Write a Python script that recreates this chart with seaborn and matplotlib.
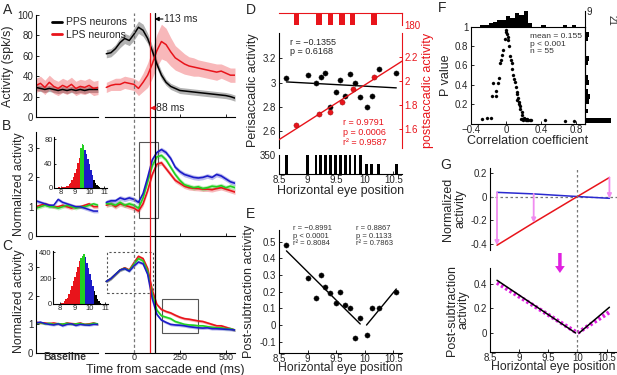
import numpy as np
import matplotlib
matplotlib.use("Agg")
import matplotlib.pyplot as plt
import seaborn as sns
from matplotlib.patches import Rectangle

# ---------------- data: panels A-C (time courses) ----------------
base_idx = list(range(15))
t_right = [-150, -125, -100, -75, -50, -25, 0, 25, 50, 75, 100, 125, 150, 175, 200,
           225, 250, 275, 300, 325, 350, 375, 400, 425, 450, 475, 500, 525, 550]

pps_base = [29, 28, 27, 28, 27, 26, 27, 26, 27, 26, 27, 26, 27, 27, 27]
lps_base = [31, 33, 29, 34, 30, 28, 31, 29, 32, 28, 30, 29, 31, 28, 29]
pps_right = [62, 63, 67, 73, 77, 75, 81, 88, 85, 77, 65, 52, 41, 34, 30,
             28, 26, 25.5, 25, 24.5, 24, 23.5, 23, 22.5, 22, 21.5, 21, 20, 18.5]
lps_right = [29, 31, 32, 32, 34, 33, 32, 28, 34, 41, 52, 65, 74, 71, 64,
             58, 55, 52, 50, 49, 48, 47, 46, 45, 44, 45, 43, 41, 41]
pps_sem = [4, 4, 4, 5, 5, 5, 6, 6, 6, 5, 5, 4, 4, 3, 3, 3, 3, 3, 3, 3, 3, 3, 3, 3, 3, 3, 3, 3, 3]
lps_sem = [5, 5, 6, 6, 6, 6, 6, 7, 9, 12, 14, 16, 17, 16, 14, 12, 11, 10, 9, 9, 8, 8, 8, 8, 8, 7, 7, 7, 7]
pps_base_sem = 3
lps_base_sem = 7

b_red_base = [1.0, 1.05, 1.1, 1.05, 1.0, 1.0, 1.05, 1.0, 0.95, 1.0, 1.0, 1.05, 1.1, 1.0, 1.0]
b_green_base = [0.95, 1.0, 1.05, 1.0, 1.0, 0.95, 1.0, 1.05, 1.0, 0.95, 1.0, 1.0, 1.05, 1.1, 1.05]
b_blue_base = [1.2, 1.15, 1.1, 1.05, 1.05, 1.25, 1.15, 1.1, 1.05, 1.0, 1.0, 0.95, 0.9, 0.85, 0.85]
b_red = [1.05, 1.1, 1.0, 1.1, 1.05, 1.0, 0.95, 0.85, 1.1, 1.55, 2.1, 2.45, 2.5, 2.3, 2.1,
         1.9, 1.8, 1.7, 1.65, 1.63, 1.62, 1.6, 1.6, 1.58, 1.62, 1.65, 1.6, 1.55, 1.5]
b_green = [1.1, 1.1, 1.05, 1.15, 1.05, 1.1, 1.05, 0.95, 1.3, 1.85, 2.4, 2.7, 2.75, 2.6, 2.35,
           2.1, 1.9, 1.75, 1.7, 1.65, 1.68, 1.62, 1.65, 1.7, 1.68, 1.72, 1.65, 1.7, 1.65]
b_blue = [1.15, 1.2, 1.2, 1.3, 1.25, 1.3, 1.25, 1.15, 1.45, 2.0, 2.6, 2.85, 2.95, 2.85, 2.65,
          2.35, 2.2, 2.1, 2.05, 2.0, 1.98, 2.0, 2.05, 2.0, 2.1, 2.05, 1.95, 1.85, 1.8]

c_red_base = [1.08, 1.05, 1.05, 1.03, 1.05, 1.02, 1.0, 1.05, 1.03, 1.02, 1.05, 1.0, 1.02, 1.05, 1.0]
c_green_base = [1.05, 1.06, 1.02, 1.04, 1.0, 1.03, 1.01, 1.04, 1.0, 1.02, 1.03, 1.0, 1.0, 1.04, 1.02]
c_blue_base = [1.05, 1.08, 1.03, 1.0, 0.98, 1.02, 0.95, 1.0, 1.02, 0.96, 1.0, 0.98, 0.97, 1.0, 1.0]
c_red = [2.5, 2.6, 2.75, 2.9, 2.98, 2.9, 3.15, 3.38, 3.3, 2.95, 2.2, 1.7, 1.52, 1.45, 1.4,
         1.32, 1.25, 1.2, 1.18, 1.15, 1.12, 1.1, 1.05, 1.0, 0.95, 0.95, 0.9, 0.85, 0.8]
c_green = [2.5, 2.6, 2.75, 2.9, 2.96, 2.88, 3.1, 3.3, 3.22, 2.85, 2.05, 1.5, 1.3, 1.25, 1.2,
           1.1, 1.05, 1.0, 0.98, 0.97, 0.95, 0.95, 0.92, 0.9, 0.88, 0.88, 0.85, 0.85, 0.8]
c_blue = [2.5, 2.6, 2.75, 2.9, 2.95, 2.86, 3.04, 3.18, 3.12, 2.75, 1.9, 1.35, 1.15, 1.07, 1.0,
          0.98, 0.97, 0.95, 0.92, 0.9, 0.88, 0.87, 0.88, 0.85, 0.85, 0.84, 0.83, 0.82, 0.8]

lat_lps = 88
lat_pps = 113

# inset histograms of eye position
hist_pos = [7.9, 8.0, 8.1, 8.2, 8.3, 8.4, 8.5, 8.6, 8.7, 8.8, 8.9, 9.0, 9.1, 9.2, 9.3,
            9.4, 9.5, 9.6, 9.7, 9.8, 9.9, 10.0, 10.1, 10.2, 10.3, 10.4, 10.5, 10.6, 10.7]
b_counts = [1, 0, 1, 2, 2, 3, 4, 6, 9, 13, 18, 25, 32, 42, 50,
            66, 73, 70, 62, 56, 48, 40, 30, 22, 14, 9, 5, 3, 1]
c_counts = [0, 2, 5, 10, 20, 35, 50, 80, 110, 140, 175, 210, 245, 285, 330,
            355, 375, 390, 360, 320, 280, 230, 185, 140, 100, 70, 40, 20, 8]
group_edges = [9.35, 9.65, 10.25]

# ---------------- data: panels D-E ----------------
eye_pos = [8.63, 9.00, 9.15, 9.23, 9.31, 9.40, 9.49, 9.57, 9.66, 9.74, 9.83, 9.92,
           10.03, 10.12, 10.24, 10.55]
eye_counts = [350, 350, 350, 350, 350, 350, 350, 350, 350, 350, 350, 350, 190, 190, 190, 190]
peri_act = [3.04, 3.06, 3.00, 3.05, 3.08, 2.80, 2.92, 3.02, 2.89, 3.07, 3.00, 2.88,
            2.80, 2.89, 3.11, 3.08]
post_eye = [8.80, 9.20, 9.40, 9.60, 9.79, 10.16]
post_counts = [180, 180, 180, 180, 180, 180]
post_act = [1.63, 1.72, 1.74, 1.82, 1.93, 2.03]
post_sub = [0.48, 0.28, 0.16, 0.30, 0.23, 0.19, 0.13, 0.20, 0.12, 0.10, -0.08, 0.04,
            -0.06, 0.10, 0.10, 0.20]
eye_split = 10.0

# ---------------- data: panel F ----------------
r_vals = [-0.28, -0.22, -0.17, -0.155, -0.145, -0.12, -0.11, -0.09, -0.08, -0.065, -0.055, -0.045,
          -0.035, -0.015, -0.005, 0.0, 0.005, 0.02, 0.025, 0.035, 0.045,
          0.051, 0.062, 0.073, 0.081, 0.095,
          0.105, 0.111, 0.119, 0.126, 0.13, 0.138, 0.142, 0.149,
          0.157, 0.164, 0.17, 0.176, 0.18, 0.187, 0.195,
          0.202, 0.205, 0.21, 0.214, 0.22, 0.225, 0.233, 0.24, 0.245,
          0.27, 0.289, 0.44, 0.67, 0.78]
p_vals = [0.045, 0.048, 0.048, 0.28, 0.42, 0.28, 0.33, 0.42, 0.47, 0.62, 0.66, 0.71,
          0.76, 0.88, 0.95, 0.97, 0.93, 0.86, 0.90, 0.80, 0.70,
          0.66, 0.62, 0.56, 0.50, 0.46,
          0.43, 0.38, 0.32, 0.245, 0.30, 0.26, 0.22, 0.20,
          0.15, 0.18, 0.045, 0.115, 0.04, 0.08, 0.035,
          0.048, 0.045, 0.04, 0.042, 0.038, 0.035, 0.04, 0.03, 0.035,
          0.028, 0.033, 0.029, 0.019, 0.019]

# ---------------- data: panel G (model) ----------------
g_x = [8.62, 9.25, 10.0, 10.55]
g_blue = [0.035, 0.022, 0.0, -0.015]
g_red = [-0.41, -0.22, 0.0, 0.16]
g_vl_x = [8.62, 9.97]
g_vl_y = [0.43, 0.0]
g_vr_x = [10.03, 10.55]
g_vr_y = [0.0, 0.21]
g_abs_x = [8.62, 10.0, 10.55]
g_abs_y = [0.41, 0.0, 0.17]

# ---------------- style ----------------
sns.set_theme(style="ticks")
plt.rcParams["font.family"] = ["Liberation Sans", "DejaVu Sans"]
plt.rcParams.update({
    "axes.edgecolor": "black", "axes.linewidth": 0.8,
    "xtick.direction": "in", "ytick.direction": "in",
    "xtick.major.size": 2.5, "ytick.major.size": 2.5,
    "xtick.major.width": 0.7, "ytick.major.width": 0.7,
    "xtick.labelsize": 7, "ytick.labelsize": 7,
    "xtick.major.pad": 1, "ytick.major.pad": 2,
    "axes.labelsize": 9,
})

RED, GREEN, BLUE = "#e8141b", "#22d022", "#1c1cc8"
W, H = 617, 375
fig = plt.figure(figsize=(6.17, 3.75), dpi=100)


def box(l, t, r, b):
    ax = fig.add_axes([l / W, 1 - b / H, (r - l) / W, (b - t) / H])
    ax.set_facecolor("none")
    return ax


def trace(ax, x, y, err, color, lw=1.0, label=None):
    y = np.asarray(y, float)
    err = np.asarray(err, float)
    ax.fill_between(x, y - err, y + err, color=color, alpha=0.3, lw=0)
    sns.lineplot(x=x, y=y, color=color, lw=lw, ax=ax, label=label)


def only(ax, keep):
    for s in ["left", "right", "top", "bottom"]:
        ax.spines[s].set_visible(s in keep)


# ---------------- A-C ----------------
rows = [(15, 117, (0, 100), [0, 20, 40, 60, 80, 100]),
        (132, 236, (0, 3.55), [0, 1, 2, 3]),
        (250, 353, (0, 3.6), [0, 1, 2, 3])]
ax_base, ax_right = [], []
for top, bot, ylim, yt in rows:
    a = box(36, top, 98, bot)
    a.set_xlim(0, 14)
    a.set_ylim(*ylim)
    a.set_yticks(yt)
    a.set_xticks([])
    only(a, ["left", "bottom"])
    r = box(105, top, 235, bot)
    r.set_xlim(-157, 550)
    r.set_ylim(*ylim)
    r.set_yticks([])
    r.set_xticks([0, 250, 500])
    r.set_xticklabels([])
    only(r, ["bottom"])
    ax_base.append(a)
    ax_right.append(r)

# A
trace(ax_base[0], base_idx, pps_base, pps_base_sem, "black", 1.1, "PPS neurons")
trace(ax_base[0], base_idx, lps_base, lps_base_sem, RED, 1.1, "LPS neurons")
trace(ax_right[0], t_right, pps_right, pps_sem, "black", 1.1)
trace(ax_right[0], t_right, lps_right, lps_sem, RED, 1.1)
ax_base[0].set_ylabel("Activity (spk/s)", labelpad=2)
leg = ax_base[0].legend(loc="upper left", bbox_to_anchor=(0.1, 1.07), frameon=False,
                        fontsize=7.5, handlelength=1.0, handletextpad=0.4, labelspacing=0.25)
for line in leg.get_lines():
    line.set_linewidth(2)

# B
for ys, col in [(b_red_base, RED), (b_green_base, GREEN), (b_blue_base, BLUE)]:
    trace(ax_base[1], base_idx, ys, 0.06, col, 1.1)
for ys, col in [(b_red, RED), (b_green, GREEN), (b_blue, BLUE)]:
    trace(ax_right[1], t_right, ys, 0.08, col, 1.2)
ax_right[1].add_patch(Rectangle((30, 0.6), 100, 2.6, fill=False, ec="#555", lw=0.8))

# C
for ys, col in [(c_red_base, RED), (c_green_base, GREEN), (c_blue_base, BLUE)]:
    trace(ax_base[2], base_idx, ys, 0.04, col, 1.1)
for ys, col in [(c_red, RED), (c_green, GREEN), (c_blue, BLUE)]:
    trace(ax_right[2], t_right, ys, 0.05, col, 1.2)
ax_right[2].add_patch(Rectangle((-147, 2.09), 250, 1.43, fill=False, ec="#555", lw=0.8, ls=(0, (2, 2))))
ax_right[2].add_patch(Rectangle((152, 0.7), 196, 1.18, fill=False, ec="#555", lw=0.8))
ax_right[2].set_xticklabels(["0", "250", "500"])
ax_right[2].tick_params(axis="x", pad=0, labelsize=6.5)
ax_base[1].set_ylabel("Normalized activity", labelpad=2, fontsize=8.8)
ax_base[2].set_ylabel("Normalized activity", labelpad=2, fontsize=8.8)

# insets
bar_cols = np.array(["red", "#22d022", BLUE, "black"])[np.digitize(hist_pos, group_edges)]
bar_cols = [RED if c == "red" else c for c in bar_cols]
for (l, t, r, b), counts, ylim, yt in [((54, 137, 107, 188), b_counts, 84, [0, 40, 80]),
                                       ((53, 251, 108, 304), c_counts, 410, [0, 200, 400])]:
    ins = box(l, t, r, b)
    ins.bar(hist_pos, counts, width=0.1, color=bar_cols, lw=0)
    ins.set_xlim(7.55, 11.2)
    ins.set_ylim(0, ylim)
    ins.set_xticks([8, 9, 10, 11])
    ins.set_yticks(yt)
    ins.tick_params(labelsize=5.5, length=1.5, pad=1)
    only(ins, ["left", "bottom"])

# overlay with latency lines
ov = box(105, 13, 235, 353)
ov.set_xlim(-157, 550)
ov.set_ylim(353, 13)
ov.axis("off")
ov.axvline(0, color="#777", lw=0.9, ls=(0, (2.5, 2)))
ov.axvline(lat_lps, color=RED, lw=0.9)
ov.axvline(lat_pps, color="black", lw=0.9)
ov.annotate("", xy=(lat_pps, 19), xytext=(lat_pps + 45, 19),
            arrowprops=dict(arrowstyle="-|>", color="black", lw=0.8, mutation_scale=6, shrinkA=0, shrinkB=0))
ov.text(lat_pps + 52, 19, "113 ms", fontsize=7.5, va="center")
ov.annotate("", xy=(lat_lps, 108), xytext=(lat_pps + 8, 108),
            arrowprops=dict(arrowstyle="-|>", color=RED, lw=0.9, mutation_scale=6, shrinkA=0, shrinkB=0))
ov.text(lat_pps + 10, 108, "88 ms", fontsize=7.5, va="center")

fig.text(65 / W, 1 - 357 / H, "Baseline", ha="center", va="center", fontsize=7.5,
         color="#333", weight="bold")
fig.text(165 / W, 1 - 369.5 / H, "Time from saccade end (ms)", ha="center", va="center", fontsize=9)

# ---------------- D ----------------
ax_dt = box(279, 13, 402, 25)
ax_dt.bar(post_eye, post_counts, width=0.09, color=RED, lw=0)
ax_dt.set_xlim(8.5, 10.65)
ax_dt.set_ylim(180, 0)
ax_dt.set_xticks([])
ax_dt.yaxis.tick_right()
ax_dt.set_yticks([180])
ax_dt.tick_params(axis="y", colors=RED, length=0)
only(ax_dt, ["top", "right"])
ax_dt.spines["top"].set_color(RED)
ax_dt.spines["right"].set_color(RED)

ax_d = box(279, 33, 402, 148)
ax_d.set_xlim(8.5, 10.65)
ax_d.set_ylim(2.46, 3.41)
ax_d2 = ax_d.twinx()
ax_d2.set_ylim(1.44, 2.40)
sns.regplot(x=eye_pos, y=peri_act, scatter=False, ci=None, color="black",
            line_kws=dict(lw=1), ax=ax_d)
sns.scatterplot(x=eye_pos, y=peri_act, color="black", s=14, edgecolor="#222", ax=ax_d, zorder=3)
sns.regplot(x=post_eye, y=post_act, scatter=False, ci=None, truncate=False, color=RED,
            line_kws=dict(lw=1), ax=ax_d2)
sns.scatterplot(x=post_eye, y=post_act, color=RED, s=14, edgecolor="#901010", ax=ax_d2, zorder=3)
ax_d.set_xlim(8.5, 10.65)
ax_d.set_xticks([])
ax_d.set_yticks([2.6, 2.8, 3.0, 3.2])
ax_d.set_yticklabels(["2.6", "2.8", "3", "3.2"])
ax_d2.set_yticks([1.6, 1.8, 2.0, 2.2])
ax_d2.set_yticklabels(["1.6", "1.8", "2", "2.2"])
only(ax_d, ["left"])
only(ax_d2, ["right"])
ax_d2.spines["right"].set_color(RED)
ax_d2.tick_params(axis="y", colors=RED)
ax_d.set_ylabel("Perisaccadic activity", labelpad=3)
ax_d2.set_ylabel("postsaccadic activity", color=RED, labelpad=3)
ax_d.text(0.09, 0.96, "r = \u22120.1355\np = 0.6168", transform=ax_d.transAxes, fontsize=6.5,
          va="top", linespacing=1.1)
ax_d.text(0.52, 0.26, "r = 0.9791\np = 0.0006\nr\u00b2 = 0.9587", transform=ax_d.transAxes,
          fontsize=6.5, va="top", color=RED, linespacing=1.1)

ax_db = box(279, 155, 402, 174)
ax_db.bar(eye_pos, eye_counts, width=0.045, color="black", lw=0)
ax_db.set_xlim(8.5, 10.65)
ax_db.set_ylim(0, 350)
ax_db.set_yticks([350])
ax_db.set_xticks([8.5, 9, 9.5, 10, 10.5])
ax_db.set_xticklabels(["8.5", "9", "9.5", "10", "10.5"])
ax_db.tick_params(axis="y", length=0)
only(ax_db, ["left", "bottom"])
ax_db.set_xlabel("Horizontal eye position", labelpad=0)

# ---------------- E ----------------
ax_e = box(279, 230, 402, 353)
ex = np.array(eye_pos)
ey = np.array(post_sub)
left = ex < eye_split
sns.regplot(x=ex[left], y=ey[left], scatter=False, ci=None, color="black", line_kws=dict(lw=1), ax=ax_e)
sns.regplot(x=ex[~left], y=ey[~left], scatter=False, ci=None, color="black", line_kws=dict(lw=1), ax=ax_e)
sns.scatterplot(x=ex, y=ey, color="black", s=14, edgecolor="#222", ax=ax_e, zorder=3)
ax_e.set_xlim(8.5, 10.65)
ax_e.set_ylim(-0.168, 0.57)
ax_e.set_yticks([-0.1, 0, 0.1, 0.2, 0.3, 0.4, 0.5])
ax_e.set_yticklabels(["-0.1", "0", "0.1", "0.2", "0.3", "0.4", "0.5"])
ax_e.set_xticks([8.5, 9, 9.5, 10, 10.5])
ax_e.set_xticklabels(["8.5", "9", "9.5", "10", "10.5"])
ax_e.tick_params(axis="x", pad=0.5)
only(ax_e, ["left", "bottom"])
ax_e.set_xlabel("Horizontal eye position", labelpad=-1, fontsize=8.8)
ax_e.set_ylabel("Post-subtraction activity", labelpad=3)
ax_e.text(0.11, 1.04, "r = \u22120.8991\np < 0.0001\nr\u00b2 = 0.8084", transform=ax_e.transAxes,
          fontsize=5.5, va="top", color="#333", linespacing=1.1)
ax_e.text(0.63, 1.04, "r = 0.8867\np = 0.1133\nr\u00b2 = 0.7863", transform=ax_e.transAxes,
          fontsize=5.5, va="top", color="#333", linespacing=1.1)

# ---------------- F ----------------
ax_f = box(471, 27, 585, 124)
sns.scatterplot(x=r_vals, y=p_vals, color="black", s=5, edgecolor="black", ax=ax_f)
ax_f.set_xlim(-0.4, 0.9)
ax_f.set_ylim(-0.01, 1.0)
ax_f.set_xticks([-0.4, 0, 0.4, 0.8])
ax_f.set_xticklabels(["\u22120.4", "0", "0.4", "0.8"])
ax_f.set_yticks([0.2, 0.4, 0.6, 0.8, 1.0])
ax_f.set_yticklabels(["0.2", "0.4", "0.6", "0.8", "1"])
ax_f.set_xlabel("Correlation coefficient", labelpad=0)
ax_f.set_ylabel("P value", labelpad=2)
ax_f.text(0.52, 0.94, "mean = 0.155\np < 0.001\nn = 55", transform=ax_f.transAxes, fontsize=6,
          va="top", color="#333", linespacing=1.15)

ax_ft = box(471, 11, 585, 27)
sns.histplot(x=r_vals, bins=np.arange(-0.3, 0.851, 0.05), color="black", alpha=1,
             edgecolor="black", lw=0, ax=ax_ft)
ax_ft.set_xlim(-0.4, 0.9)
ax_ft.set_ylim(0, 9)
ax_ft.set_xticks([])
ax_ft.yaxis.tick_right()
ax_ft.set_yticks([9])
ax_ft.set_ylabel("")
ax_ft.tick_params(axis="y", length=0, labelsize=7, pad=1)
only(ax_ft, ["right"])

ax_fr = box(585, 27, 612, 124)
sns.histplot(y=p_vals, bins=np.arange(0, 1.001, 0.05), color="black", alpha=1,
             edgecolor="black", lw=0, ax=ax_fr)
ax_fr.set_ylim(-0.01, 1.0)
ax_fr.set_xlim(0, 21)
ax_fr.set_yticks([])
ax_fr.xaxis.tick_top()
ax_fr.set_xticks([21])
ax_fr.set_xlabel("")
ax_fr.tick_params(axis="x", length=0, labelsize=7, labelrotation=-90, pad=1)
only(ax_fr, ["left"])

# ---------------- G ----------------
ax_g1 = box(490, 168, 617, 250)
ax_g1.axhline(0, color="#777", lw=0.9, ls=(0, (2, 2)))
sns.lineplot(x=g_x, y=g_blue, color="#2a2ad0", lw=1.1, ax=ax_g1)
sns.lineplot(x=g_x, y=g_red, color=RED, lw=1.1, ax=ax_g1)
for xi, yb, yr in zip(g_x, g_blue, g_red):
    if abs(yb - yr) > 0.05:
        ax_g1.annotate("", xy=(xi, min(yb, yr)), xytext=(xi, max(yb, yr)),
                       arrowprops=dict(arrowstyle="-|>", color="#f08cf0", lw=1.3,
                                       mutation_scale=6, shrinkA=0, shrinkB=0))
ax_g1.set_xlim(8.5, 10.68)
ax_g1.set_ylim(-0.45, 0.24)
ax_g1.set_xticks([])
ax_g1.set_yticks([-0.4, -0.2, 0, 0.2])
ax_g1.set_yticklabels(["-0.4", "-0.2", "0", "0.2"])
only(ax_g1, ["left"])
ax_g1.set_ylabel("Normalized\nactivity", labelpad=3, linespacing=1.0)

ax_g2 = box(490, 268, 617, 352)
sns.lineplot(x=g_abs_x, y=g_abs_y, color="#e020e0", lw=3, ls=(0, (0.6, 0.6)), ax=ax_g2)
sns.lineplot(x=g_vl_x, y=g_vl_y, color="black", lw=1.1, ax=ax_g2)
sns.lineplot(x=g_vr_x, y=g_vr_y, color="black", lw=1.1, ax=ax_g2)
ax_g2.set_xlim(8.5, 10.68)
ax_g2.set_ylim(-0.155, 0.53)
ax_g2.set_yticks([0, 0.2, 0.4])
ax_g2.set_yticklabels(["0", "0.2", "0.4"])
ax_g2.set_xticks([8.5, 9, 9.5, 10, 10.5])
ax_g2.set_xticklabels(["8.5", "9", "9.5", "10", "10.5"])
ax_g2.tick_params(axis="x", pad=0.5)
only(ax_g2, ["left", "bottom"])
ax_g2.set_xlabel("Horizontal eye position", labelpad=-1, fontsize=8.8)
ax_g2.set_ylabel("Post-subtraction\nactivity", labelpad=3, linespacing=1.0)

ovg = box(490, 168, 617, 352)
ovg.set_xlim(8.5, 10.68)
ovg.set_ylim(352, 168)
ovg.axis("off")
ovg.axvline(eye_split, color="#777", lw=0.9, ls=(0, (2, 2)))
ovg.annotate("", xy=(9.7, 273), xytext=(9.7, 253),
             arrowprops=dict(facecolor="#e020e0", edgecolor="none", width=2.5, headwidth=7, headlength=5))

# panel letters
for letter, x, y in [("A", 3, 10), ("B", 2, 126), ("C", 2, 246), ("D", 246, 10),
                     ("E", 246, 214), ("F", 438, 8), ("G", 440, 165)]:
    fig.text(x / W, 1 - y / H, letter, fontsize=10, va="center", ha="left")

fig.savefig("out.png", dpi=100)
